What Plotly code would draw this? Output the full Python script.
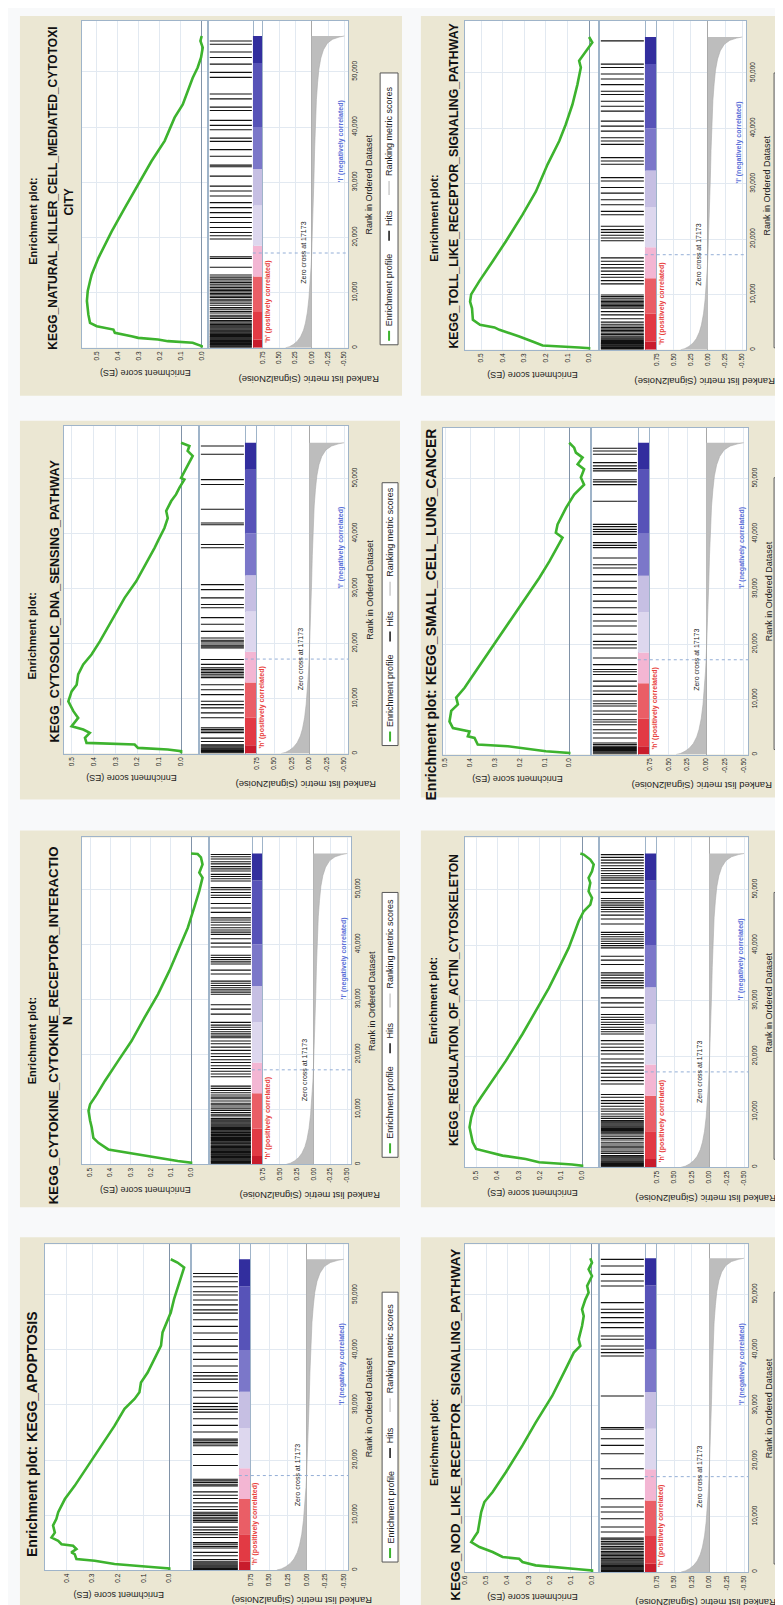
import plotly.graph_objects as go

W, H = 783, 1605
N_GENES = 56500
ZERO_CROSS = 17173
FONT = "Liberation Sans, Arial, sans-serif"

# ---------------- shared ranked-list data ----------------
METRIC_RANK_K = [0, 0.2, 0.6, 1.2, 2.0, 3.2, 4.5, 6.5, 9, 12, 15, 17.173, 21, 26, 31, 36, 41, 45, 48, 50.5, 52.5, 54, 55.2, 55.9, 56.3, 56.5]
METRIC_VALUE = [0.40, 0.34, 0.28, 0.22, 0.17, 0.125, 0.095, 0.065, 0.042, 0.022, 0.008, 0.0, -0.012, -0.025, -0.035, -0.045, -0.058, -0.072, -0.09, -0.11, -0.14, -0.18, -0.24, -0.32, -0.42, -0.5]
STRIP_EDGES_K = [0, 1.5, 6.5, 12.9, 18.5, 25.8, 32.4, 40.0, 51.6, 56.5]
STRIP_COLORS = ["#c81c2c", "#e23a44", "#ea5e66", "#f3b6d3", "#ddd7ee", "#c6bfe3", "#7b77c9", "#5753b8", "#322e9e"]
METRIC_TICKS = [0.75, 0.5, 0.25, 0.0, -0.25, -0.5]
METRIC_TICK_TEXT = ["0.75", "0.50", "0.25", "0.00", "-0.25", "-0.50"]
RANK_TICKS = [0, 10000, 20000, 30000, 40000, 50000]
RANK_TICK_TEXT = ["0", "10,000", "20,000", "30,000", "40,000", "50,000"]

# ---------------- per gene set data (ranks in thousands) ----------------
NK_ES_RANK_K = [0, 0.3, 0.9, 1.2, 1.5, 1.8, 2.1, 2.7, 3.3, 3.9, 4.5, 6.0, 8.5, 10.3, 12.1, 13.3, 16.3, 21.1, 25.4, 29.6, 33.8, 37.5, 41.7, 44.1, 46.5, 48.9, 50.8, 52.6, 54.4, 55.6, 56.5]
NK_ES = [0, 0.0, 0.043, 0.161, 0.208, 0.302, 0.334, 0.413, 0.420, 0.499, 0.531, 0.539, 0.546, 0.542, 0.531, 0.523, 0.491, 0.428, 0.365, 0.302, 0.239, 0.176, 0.129, 0.090, 0.066, 0.043, 0.019, 0.003, -0.005, 0.006, 0.0]
NK_HITS_K = [0.1, 0.2, 0.35, 0.5, 0.6, 0.75, 0.9, 1.0, 1.15, 1.3, 1.45, 1.6, 1.75, 1.9, 2.05, 2.2, 2.4, 2.55, 2.7, 2.9, 3.05, 3.2, 3.4, 3.6, 3.8, 4.0, 4.2, 4.45, 4.7, 4.95,
             5.3, 5.6, 5.9, 6.3, 6.6, 7.0, 7.3, 7.7, 8.1, 8.5, 8.8, 9.1, 9.35, 9.6, 9.85, 10.1, 10.35, 10.6, 10.9, 11.2, 11.5, 11.8, 12.1, 12.45, 12.8, 13.2,
             14.6, 16.2, 16.5, 19.7, 20.3, 20.9, 21.8, 22.7, 23.6, 24.5, 25.4, 26.3, 27.5, 28.4, 29.3, 31.1, 32.8, 33.1, 34.7, 35.9, 37.4, 38.0, 39.5, 40.3, 41.2, 43.0, 43.6, 45.1, 46.0, 49.0, 49.9, 51.4, 52.6, 53.6, 55.0, 55.6]

TOLL_ES_RANK_K = [0, 0.3, 0.42, 0.78, 1.5, 2.4, 3.6, 4.04, 4.5, 5.4, 7.5, 8.7, 10.0, 12.4, 16.0, 19.6, 24.4, 28.6, 33.5, 37.7, 40.7, 44.3, 47.9, 51.0, 52.2, 53.4, 55.5, 56.5]
TOLL_ES = [0, 0.0, 0.046, 0.215, 0.262, 0.323, 0.415, 0.438, 0.505, 0.538, 0.542, 0.551, 0.546, 0.508, 0.446, 0.385, 0.308, 0.246, 0.192, 0.138, 0.108, 0.077, 0.054, 0.038, 0.046, 0.023, -0.015, 0.0]
TOLL_HITS_K = [0.1, 0.25, 0.4, 0.55, 0.7, 0.85, 1.0, 1.15, 1.3, 1.5, 1.7, 1.9, 2.1, 2.3, 2.5, 2.75, 3.0, 3.25, 3.5, 3.75, 4.0, 4.3, 4.6, 5.0,
               5.6, 6.3, 6.9, 7.5, 7.75, 8.0, 8.25, 8.5, 8.75, 9.0, 9.3, 9.6, 9.9,
               11.9, 12.5, 13.1, 13.6, 14.2, 14.8, 15.4, 16.0, 16.6, 19.7, 20.2, 20.7, 21.2, 21.7, 22.3,
               24.4, 25.0, 26.2, 27.1, 28.3, 29.3, 30.5, 31.1, 33.5, 34.1, 34.7, 37.1, 37.7, 38.3, 39.5, 40.4, 41.3, 43.1, 44.0, 44.9, 46.1, 46.7, 47.9, 48.9, 49.8, 51.0, 51.6, 55.8]

DNA_ES_RANK_K = [0, 0.42, 0.73, 1.03, 1.64, 1.94, 2.85, 3.76, 4.36, 4.97, 6.48, 7.7, 9.5, 11.3, 12.5, 14.4, 16.2, 18.0, 20.4, 24.1, 28.3, 31.3, 35.0, 37.4, 38.6, 41.0, 42.8, 44.1, 45.9, 47.1, 48.3, 49.8, 50.1, 51.9, 54.1, 55.0, 55.9, 56.5]
DNA_ES = [0, 0.0, 0.061, 0.197, 0.212, 0.432, 0.439, 0.417, 0.447, 0.500, 0.470, 0.492, 0.515, 0.500, 0.477, 0.470, 0.447, 0.409, 0.371, 0.318, 0.258, 0.205, 0.152, 0.121, 0.106, 0.076, 0.061, 0.068, 0.045, 0.023, 0.008, -0.015, 0.0, -0.023, -0.053, -0.030, -0.038, 0.0]
DNA_HITS_K = [0.1, 0.25, 0.4, 0.55, 0.7, 0.85, 1.0, 1.2, 1.4, 1.6, 2.2, 2.8, 3.8, 4.1, 4.4, 4.7, 6.5, 7.4, 8.3, 8.9, 9.5, 10.7, 11.6, 12.5, 13.8, 14.1, 14.4, 14.7, 15.0, 15.3, 15.6, 16.2, 17.1,
              19.2, 19.5, 19.7, 20.1, 20.4, 20.6, 21.0, 22.2, 23.5, 24.7, 26.5, 27.1, 28.3, 29.8, 30.7, 37.4, 38.0, 41.6, 41.9, 44.4, 48.9, 49.8, 54.4, 55.9]

SCLC_ES_RANK_K = [0, 0.3, 0.6, 1.2, 1.5, 1.8, 3.0, 3.3, 4.2, 4.8, 6.0, 7.9, 9.1, 10.3, 12.1, 13.9, 16.9, 20.5, 24.8, 28.4, 32.0, 35.0, 38.1, 39.3, 40.2, 41.7, 44.7, 47.1, 48.9, 50.2, 51.7, 52.6, 53.8, 54.7, 55.6, 56.5]
SCLC_ES = [0, 0.0, 0.094, 0.214, 0.248, 0.369, 0.382, 0.409, 0.402, 0.469, 0.483, 0.476, 0.449, 0.456, 0.422, 0.395, 0.349, 0.295, 0.228, 0.174, 0.121, 0.080, 0.040, 0.027, 0.054, 0.047, 0.013, -0.020, -0.060, -0.047, -0.060, -0.034, -0.054, -0.027, -0.020, 0.0]
SCLC_HITS_K = [0.1, 0.3, 0.5, 0.7, 0.9, 1.1, 1.3, 1.5, 1.8, 2.1, 3.0, 3.9, 4.5, 5.4, 5.9, 6.3, 7.3, 7.9, 8.8, 9.2, 9.7, 10.9, 11.5, 12.4, 13.3, 14.5, 15.0, 15.4, 16.3, 17.5,
               19.3, 19.9, 20.5, 21.8, 23.3, 24.2, 25.4, 26.6, 27.8, 29.0, 30.2, 31.4, 32.6, 33.8, 34.4, 35.6, 37.5, 37.9, 38.4, 39.9, 40.4, 40.8, 41.3, 41.7,
               45.9, 48.9, 49.4, 49.8, 51.4, 51.8, 52.3, 52.9, 54.4, 55.0, 55.5]

CYTO_ES_RANK_K = [0, 0.3, 0.6, 1.2, 1.8, 2.4, 2.7, 3.9, 4.8, 6.7, 7.9, 9.7, 10.9, 12.7, 15.2, 18.8, 22.4, 26.7, 30.9, 35.2, 39.4, 43.0, 46.7, 49.7, 52.1, 53.0, 54.5, 55.8, 56.4, 56.5]
CYTO_ES = [0, 0.0, 0.066, 0.164, 0.246, 0.344, 0.410, 0.459, 0.484, 0.492, 0.500, 0.508, 0.500, 0.467, 0.426, 0.361, 0.295, 0.230, 0.164, 0.107, 0.057, 0.016, -0.016, -0.041, -0.057, -0.041, -0.057, -0.049, -0.033, 0.0]
CYTO_HITS_K = [0.05, 0.2, 0.35, 0.5, 0.65, 0.8, 0.95, 1.1, 1.25, 1.4, 1.55, 1.7, 1.85, 2.0, 2.15, 2.3, 2.45, 2.6, 2.75, 2.9, 3.05, 3.2, 3.35, 3.5, 3.7, 3.85, 4.0, 4.2, 4.35, 4.5,
               4.7, 4.85, 5.0, 5.2, 5.4, 5.55, 5.75, 5.9, 6.1, 6.3, 6.5, 6.7, 6.9, 7.1, 7.3, 7.5, 7.7, 7.9, 8.1, 8.35,
               8.8, 9.1, 9.4, 9.8, 10.1, 10.4, 10.8, 11.1, 11.5, 11.9, 12.2, 12.6, 13.0, 13.4, 13.8, 14.2,
               15.9, 16.4, 16.9, 17.4, 17.9, 18.5, 19.0, 19.6, 20.1, 20.7, 21.3, 21.9, 22.4,
               23.0, 23.3, 23.7, 24.1, 24.5, 24.9, 25.3, 25.8, 27.3, 28.2, 29.0, 30.9, 31.3, 31.7, 32.1, 32.5, 32.9, 33.3, 34.6, 35.3,
               36.4, 36.8, 37.2, 37.6, 38.0, 39.5, 40.2, 41.0, 41.8, 42.2, 42.6, 43.0, 43.5, 44.0, 44.4, 44.8, 45.8, 46.6, 47.4,
               48.5, 48.9, 49.4, 49.9, 50.3, 51.5, 51.9, 52.3, 52.7, 53.3, 53.7, 54.1, 54.6, 55.0, 55.5, 55.9, 56.3]

ACTIN_ES_RANK_K = [0, 0.3, 0.5, 0.9, 1.5, 2.1, 2.7, 3.3, 4.5, 6.0, 7.2, 9.0, 10.8, 12.6, 15.6, 19.2, 24.0, 28.1, 32.3, 35.9, 39.5, 41.9, 44.3, 46.1, 47.3, 48.5, 49.7, 51.2, 52.1, 53.3, 54.5, 55.4, 56.3, 56.5]
ACTIN_ES = [0, 0.0, 0.047, 0.203, 0.266, 0.375, 0.438, 0.500, 0.516, 0.523, 0.531, 0.523, 0.508, 0.477, 0.422, 0.359, 0.281, 0.219, 0.156, 0.109, 0.063, 0.039, 0.016, -0.008, -0.039, -0.047, -0.031, -0.039, -0.031, -0.047, -0.055, -0.039, -0.008, 0.008]
ACTIN_HITS_K = [0.05, 0.2, 0.35, 0.5, 0.65, 0.8, 0.95, 1.1, 1.3, 1.5, 1.7, 1.9, 2.1, 2.5, 2.8, 3.1, 3.5, 3.8, 4.2, 4.5, 4.9, 5.2, 5.6, 6.0, 6.2, 6.4, 6.6, 6.8, 7.0, 7.2, 7.4, 7.6, 7.8, 8.0, 8.2, 8.4,
                8.8, 9.2, 9.6, 10.1, 10.5, 11.0, 11.5, 12.0, 12.6, 13.1, 15.0, 15.6, 16.2, 16.9, 17.5, 18.1, 18.8, 19.5, 20.4, 21.0, 21.6, 22.2, 22.8,
                24.0, 24.4, 24.8, 25.2, 25.7, 26.1, 26.6, 27.0, 27.5, 28.8, 29.6, 30.5, 32.3, 32.7, 33.2, 33.6, 34.1, 34.6, 35.0, 36.5, 37.3, 38.0,
                39.5, 39.9, 40.3, 40.7, 41.1, 41.5, 41.9, 42.3, 43.8, 44.7, 45.4, 46.0, 46.4, 46.8, 47.2, 47.6, 48.0, 48.4, 49.5, 50.3, 51.1,
                51.7, 52.1, 52.5, 52.9, 53.4, 53.8, 54.3, 54.8, 55.3, 55.8, 56.3]

APOP_ES_RANK_K = [0, 0.3, 0.5, 1.1, 1.7, 2.0, 2.9, 3.2, 3.8, 4.4, 4.7, 5.3, 5.9, 6.8, 8.1, 9.3, 10.5, 11.7, 12.9, 15.3, 19.0, 22.6, 26.2, 29.3, 31.1, 32.3, 34.1, 35.9, 38.4, 40.8, 43.2, 45.6, 46.8, 49.3, 51.1, 52.9, 55.0, 55.9, 56.5]
APOP_ES = [0, 0.0, 0.058, 0.213, 0.290, 0.361, 0.368, 0.381, 0.361, 0.374, 0.419, 0.432, 0.458, 0.445, 0.452, 0.439, 0.432, 0.419, 0.406, 0.368, 0.316, 0.265, 0.213, 0.174, 0.135, 0.116, 0.110, 0.084, 0.058, 0.032, 0.026, 0.006, -0.006, -0.019, -0.032, -0.045, -0.058, -0.032, -0.006]
APOP_HITS_K = [0.1, 0.3, 0.5, 0.7, 0.9, 1.1, 1.3, 1.6, 1.9, 2.6, 3.2, 4.0, 4.3, 4.7, 5.0, 5.9, 6.4, 6.8, 7.3, 7.8, 8.7, 9.0, 9.3, 9.6, 9.9, 10.2, 10.5, 11.0, 11.5, 12.2, 13.0, 13.6, 14.2,
               15.3, 15.6, 15.9, 16.2, 16.5, 19.0, 21.0, 22.6, 22.9, 23.2, 23.5, 23.8, 25.1, 26.3, 27.5, 28.7, 29.2, 29.7, 30.3, 31.4, 32.6, 34.1, 34.7, 35.3, 35.9,
               37.1, 38.3, 39.5, 40.7, 41.9, 43.1, 44.3, 45.5, 46.7, 47.3, 48.2, 49.1, 50.0, 50.6, 51.5, 52.4, 53.3, 53.9]

NOD_ES_RANK_K = [0, 0.3, 0.5, 0.7, 1.2, 1.8, 2.4, 2.7, 3.6, 4.5, 5.4, 6.3, 7.2, 9.0, 10.8, 12.6, 14.4, 18.0, 22.8, 26.9, 31.7, 36.5, 39.5, 40.7, 41.9, 44.3, 46.1, 47.3, 49.1, 50.3, 51.5, 53.3, 54.5, 55.7, 56.5]
NOD_ES = [0, 0.0, 0.063, 0.125, 0.266, 0.328, 0.344, 0.422, 0.469, 0.531, 0.570, 0.555, 0.539, 0.531, 0.523, 0.508, 0.469, 0.406, 0.328, 0.266, 0.188, 0.125, 0.086, 0.055, 0.063, 0.047, 0.039, 0.047, 0.031, 0.016, 0.023, 0.0, 0.016, 0.0, 0.008]
NOD_HITS_K = [0.1, 0.25, 0.4, 0.55, 0.7, 0.85, 1.0, 1.2, 1.4, 1.6, 1.8, 2.0, 2.2, 2.45, 2.7, 2.95, 3.2, 3.45, 3.7, 4.0, 4.3, 4.6, 4.9, 5.2, 5.5, 5.8, 6.1,
              7.2, 8.1, 9.6, 10.8, 11.7, 13.2, 16.8, 18.6, 21.3, 22.8, 24.0, 25.7, 26.0, 31.7, 38.9, 39.5, 40.1, 40.7, 41.9, 42.5, 44.0, 44.9, 45.8, 46.7, 47.3, 48.5,
              51.5, 52.4, 53.6, 55.1, 56.3]

PANELS = [
    dict(key="nk", es_rank=NK_ES_RANK_K, es=NK_ES, hits=NK_HITS_K),
    dict(key="toll", es_rank=TOLL_ES_RANK_K, es=TOLL_ES, hits=TOLL_HITS_K),
    dict(key="dna", es_rank=DNA_ES_RANK_K, es=DNA_ES, hits=DNA_HITS_K),
    dict(key="sclc", es_rank=SCLC_ES_RANK_K, es=SCLC_ES, hits=SCLC_HITS_K),
    dict(key="cyto", es_rank=CYTO_ES_RANK_K, es=CYTO_ES, hits=CYTO_HITS_K),
    dict(key="actin", es_rank=ACTIN_ES_RANK_K, es=ACTIN_ES, hits=ACTIN_HITS_K),
    dict(key="apop", es_rank=APOP_ES_RANK_K, es=APOP_ES, hits=APOP_HITS_K),
    dict(key="nod", es_rank=NOD_ES_RANK_K, es=NOD_ES, hits=NOD_HITS_K),
]

# ---------------- layout geometry (pixels of the rotated picture) ----------------
# legend = (box x0, box x1, box top, box bottom, text centre x, text size)
GEO = {
    "nk": dict(beige=(8, 392, 8, 388), es=(70, 197), es_rng=(0.571, -0.030), hits=(197, 242), strip=(242, 252), metric=(252, 338),
               ytop=13, y0=340, yN=28, legend=(370, 388, 65, 337, 379, 9),
               title=[("Enrichment plot:", 21, 213, 11), ("KEGG_NATURAL_KILLER_CELL_MEDIATED_CYTOTOXI", 41, 180, 12), ("CITY", 57, 194, 12)]),
    "toll": dict(beige=(411, 790, 8, 388), es=(455, 590), es_rng=(0.576, -0.046), hits=(590, 636), strip=(636, 648), metric=(648, 738),
                 ytop=13, y0=342, yN=29, legend=(766, 790, 65, 340, 771.5, 7.5),
                 title=[("Enrichment plot:", 424, 210, 11), ("KEGG_TOLL_LIKE_RECEPTOR_SIGNALING_PATHWAY", 444, 178, 12.3)]),
    "dna": dict(beige=(8, 390, 413, 792), es=(52, 188), es_rng=(0.536, -0.082), hits=(188, 234), strip=(234, 246), metric=(246, 338),
                ytop=418, y0=746, yN=435, legend=(372, 388, 475, 738, 380, 9),
                title=[("Enrichment plot:", 20, 628, 11), ("KEGG_CYTOSOLIC_DNA_SENSING_PATHWAY", 43, 593, 12.6)]),
    "sclc": dict(beige=(411, 790, 413, 790), es=(433, 582), es_rng=(0.51, -0.088), hits=(582, 629), strip=(629, 641), metric=(641, 740),
                 ytop=420, y0=747, yN=435, legend=(766, 790, 470, 742, 771.5, 7.5),
                 title=[("Enrichment plot: KEGG_SMALL_CELL_LUNG_CANCER", 421, 607, 14)]),
    "cyto": dict(beige=(8, 390, 823, 1200), es=(70, 198), es_rng=(0.542, -0.089), hits=(198, 241), strip=(241, 252), metric=(252, 341),
                 ytop=830, y0=1157, yN=846, legend=(372, 388, 885, 1150, 380, 9),
                 title=[("Enrichment plot:", 20, 1033, 11), ("KEGG_CYTOKINE_CYTOKINE_RECEPTOR_INTERACTIO", 42, 1018, 13.2), ("N", 57, 1013, 12.3)]),
    "actin": dict(beige=(411, 790, 823, 1200), es=(455, 590), es_rng=(0.554, -0.080), hits=(590, 636), strip=(636, 648), metric=(648, 740),
                  ytop=830, y0=1160, yN=846, legend=(766, 790, 885, 1152, 771.5, 7.5),
                  title=[("Enrichment plot:", 424, 993, 11), ("KEGG_REGULATION_OF_ACTIN_CYTOSKELETON", 445, 993, 12)]),
    "apop": dict(beige=(8, 390, 1230, 1605), es=(33, 180), es_rng=(0.484, -0.085), hits=(180, 228), strip=(228, 240), metric=(240, 338),
                 ytop=1237, y0=1563, yN=1252, legend=(372, 388, 1285, 1555, 380, 9),
                 title=[("Enrichment plot: KEGG_APOPTOSIS", 20, 1427, 14)]),
    "nod": dict(beige=(411, 790, 1230, 1605), es=(455, 590), es_rng=(0.601, -0.033), hits=(590, 636), strip=(636, 648), metric=(648, 740),
                ytop=1237, y0=1565, yN=1251, legend=(766, 790, 1285, 1557, 771.5, 7.5),
                title=[("Enrichment plot:", 424, 1435, 11), ("KEGG_NOD_LIKE_RECEPTOR_SIGNALING_PATHWAY", 445, 1418, 13.5)]),
}

GREEN = "#3db32e"
LINE_C = "#9fb4c9"
GRID_C = "#e2e9f1"
ZERO_C = "#8193a8"
TICKF = dict(family=FONT, size=6.5, color="#222222")


def px(x):
    return x / W


def py(y):
    return 1 - y / H


def xr(n):
    return "x" if n == 1 else f"x{n}"


def yr(n):
    return "y" if n == 1 else f"y{n}"


def xa(n):
    return "xaxis" if n == 1 else f"xaxis{n}"


def ya(n):
    return "yaxis" if n == 1 else f"yaxis{n}"


fig = go.Figure()
lay = {}
shapes = []
annotations = []


def ann(text, x, y, size, angle, color="#111111", xanchor="center", yanchor="middle", bold=False,
        xref="paper", yref="paper", xshift=0, pad=1):
    annotations.append(dict(text=f"<b>{text}</b>" if bold else text, x=x, y=y, xref=xref, yref=yref,
                            textangle=angle, showarrow=False, xanchor=xanchor, yanchor=yanchor, xshift=xshift,
                            borderpad=pad, font=dict(family=FONT, size=size, color=color)))


box = dict(showline=True, mirror=True, linecolor=LINE_C, linewidth=1)

for i, p in enumerate(PANELS):
    g = GEO[p["key"]]
    ex, hx, sx, mx = 4 * i + 1, 4 * i + 2, 4 * i + 3, 4 * i + 4
    ey, hy, my = 3 * i + 1, 3 * i + 2, 3 * i + 3
    rank_top = N_GENES * (g["y0"] - g["ytop"]) / (g["y0"] - g["yN"])
    ydom = [py(g["y0"]), py(g["ytop"])]
    e0, e1 = g["es"]
    h0, h1 = g["hits"]
    s0, s1 = g["strip"]
    m0, m1 = g["metric"]

    # backgrounds
    b = g["beige"]
    shapes.append(dict(type="rect", xref="paper", yref="paper", x0=px(b[0]), x1=px(b[1]), y0=py(b[3]), y1=py(b[2]),
                       fillcolor="#ebe7d3", line=dict(width=0), layer="below"))
    shapes.append(dict(type="rect", xref="paper", yref="paper", x0=px(e0), x1=px(m1), y0=py(g["y0"]), y1=py(g["ytop"]),
                       fillcolor="white", line=dict(width=0), layer="below"))

    # axes
    lay[xa(ex)] = dict(domain=[px(e0), px(e1)], range=list(g["es_rng"]), anchor=yr(ey), showgrid=True, gridcolor=GRID_C,
                       zeroline=True, zerolinecolor=ZERO_C, zerolinewidth=1, tickmode="linear", tick0=0, dtick=0.1,
                       tickformat=".1f", tickangle=-90, tickfont=TICKF, ticks="", **box)
    lay[ya(ey)] = dict(domain=ydom, range=[0, rank_top], anchor=xr(ex), showgrid=True, gridcolor=GRID_C, zeroline=False,
                       tickmode="array", tickvals=RANK_TICKS, showticklabels=False, ticks="", **box)
    lay[xa(hx)] = dict(domain=[px(h0), px(h1)], range=[0, 1], anchor=yr(hy), showgrid=False, zeroline=False,
                       showticklabels=False, ticks="", **box)
    lay[xa(sx)] = dict(domain=[px(s0), px(s1)], range=[0, 1], anchor=yr(hy), showgrid=False, zeroline=False,
                       showticklabels=False, ticks="", **box)
    lay[ya(hy)] = dict(domain=ydom, range=[0, rank_top], anchor=xr(hx), showgrid=False, zeroline=False,
                       showticklabels=False, ticks="", **box)
    lay[xa(mx)] = dict(domain=[px(m0), px(m1)], range=[0.75, -0.56], anchor=yr(my), showgrid=True, gridcolor=GRID_C,
                       zeroline=True, zerolinecolor="#a8a8a8", zerolinewidth=1, tickmode="array", tickvals=METRIC_TICKS,
                       ticktext=METRIC_TICK_TEXT, tickangle=-90, tickfont=TICKF, ticks="", **box)
    lay[ya(my)] = dict(domain=ydom, range=[0, rank_top], anchor=xr(mx), side="right", showgrid=True, gridcolor=GRID_C,
                       zeroline=False, tickmode="array", tickvals=RANK_TICKS, ticktext=RANK_TICK_TEXT, tickangle=-90,
                       tickfont=TICKF, ticks="", **box)

    # enrichment profile
    fig.add_trace(go.Scatter(x=p["es"], y=[r * 1000 for r in p["es_rank"]], mode="lines",
                             line=dict(color=GREEN, width=2.6), xaxis=xr(ex), yaxis=yr(ey), hoverinfo="skip"))
    # hits
    hxs, hys = [], []
    for r in p["hits"]:
        hxs += [0.04, 0.98, None]
        hys += [r * 1000, r * 1000, None]
    fig.add_trace(go.Scatter(x=hxs, y=hys, mode="lines", line=dict(color="#111111", width=1.1),
                             xaxis=xr(hx), yaxis=yr(hy), hoverinfo="skip"))
    # colour strip
    fig.add_trace(go.Bar(x=[0.5] * (len(STRIP_EDGES_K) - 1),
                         y=[(STRIP_EDGES_K[k + 1] - STRIP_EDGES_K[k]) * 1000 for k in range(len(STRIP_EDGES_K) - 1)],
                         base=[STRIP_EDGES_K[k] * 1000 for k in range(len(STRIP_EDGES_K) - 1)],
                         width=1.0, marker=dict(color=STRIP_COLORS, line=dict(width=0)),
                         xaxis=xr(sx), yaxis=yr(hy), hoverinfo="skip"))
    # ranked list metric
    fig.add_trace(go.Scatter(x=METRIC_VALUE, y=[r * 1000 for r in METRIC_RANK_K], mode="lines", fill="tozerox",
                             fillcolor="#bdbdbd", line=dict(color="#a9a9a9", width=0.6),
                             xaxis=xr(mx), yaxis=yr(my), hoverinfo="skip"))

    # zero cross dashed line
    shapes.append(dict(type="line", xref="paper", x0=px(s0), x1=px(m1), yref=yr(my), y0=ZERO_CROSS, y1=ZERO_CROSS,
                       line=dict(color="#93aed6", width=1, dash="dot")))

    # titles
    for text, tx, tyc, size in g["title"]:
        ann(text, px(tx), py(tyc), size, -90, bold=True)

    # axis titles
    ann("Enrichment score (ES)", px((e0 + e1) / 2), py(g["y0"] + 25), 9, 180, color="#222222")
    ann("Ranked list metric (Signal2Noise)", px((m0 + m1) / 2 + 3), py(g["y0"] + 31), 9.5, 180, color="#222222")
    ann("Rank in Ordered Dataset", px(m1 + 21), py((g["ytop"] + g["y0"]) / 2), 9, -90, color="#222222")

    # in-plot labels
    ann("'h' (positively correlated)", px(s1 + 5), 500, 7, -90, color="#e8413c", yanchor="bottom",
        bold=True, yref=yr(my))
    ann("'l' (negatively correlated)", px(m1 - 7), 37500, 7, -90, color="#5a6fd8", bold=True, yref=yr(my))
    ann(f"Zero cross at {ZERO_CROSS}", 0, ZERO_CROSS, 7, -90, color="#222222", xref=xr(mx), yref=yr(my), xshift=-9)

    # legend box
    lx0, lx1, ly0, ly1, lc, lfs = g["legend"]
    shapes.append(dict(type="rect", xref="paper", yref="paper", x0=px(lx0), x1=px(lx1), y0=py(ly1), y1=py(ly0),
                       fillcolor="white", line=dict(color="#555555", width=1)))
    shapes.append(dict(type="line", xref="paper", yref="paper", x0=px(lc), x1=px(lc), y0=py(ly1 - 4), y1=py(ly1 - 14),
                       line=dict(color=GREEN, width=2)))
    ann("Enrichment profile", px(lc), py(ly1 - 17), lfs, -90, color="#222222", yanchor="bottom", pad=0)
    shapes.append(dict(type="line", xref="paper", yref="paper", x0=px(lc), x1=px(lc), y0=py(ly1 - 104), y1=py(ly1 - 114),
                       line=dict(color="#111111", width=1.5)))
    ann("Hits", px(lc), py(ly1 - 118), lfs, -90, color="#222222", yanchor="bottom", pad=0)
    shapes.append(dict(type="line", xref="paper", yref="paper", x0=px(lc), x1=px(lc), y0=py(ly1 - 150), y1=py(ly1 - 164),
                       line=dict(color="#cccccc", width=1.5)))
    ann("Ranking metric scores", px(lc), py(ly1 - 168), lfs, -90, color="#222222", yanchor="bottom", pad=0)

fig.update_layout(width=W, height=H, autosize=False, margin=dict(l=0, r=0, t=0, b=0),
                  paper_bgcolor="#f8f9fa", plot_bgcolor="rgba(0,0,0,0)", showlegend=False, hovermode=False,
                  shapes=shapes, annotations=annotations, **lay)

fig.write_html("out.html")
